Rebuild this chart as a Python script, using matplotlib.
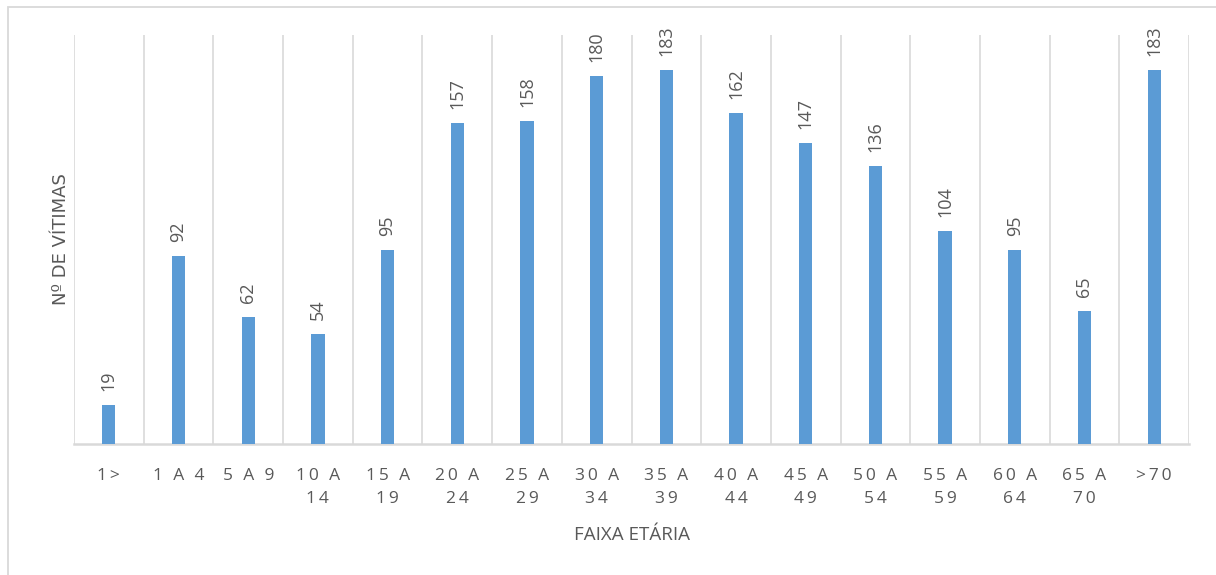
import matplotlib.pyplot as plt
from matplotlib.patches import Rectangle

plt.rcParams['font.family'] = ['Open Sans', 'DejaVu Sans']

faixas = ["1>", "1 A 4", "5 A 9", "10 A\n14", "15 A\n19", "20 A\n24", "25 A\n29",
          "30 A\n34", "35 A\n39", "40 A\n44", "45 A\n49", "50 A\n54", "55 A\n59",
          "60 A\n64", "65 A\n70", ">70"]
vitimas = [19, 92, 62, 54, 95, 157, 158, 180, 183, 162, 147, 136, 104, 95, 65, 183]

cor_barra = "#5B9BD5"
cor_texto = "#595959"
cor_grade = "#D9D9D9"


def espacado(s):
    # imita o espacamento entre letras do Excel
    linhas = []
    for ln in s.split("\n"):
        palavras = ["\u2009".join(p) for p in ln.split(" ")]
        linhas.append("\u2009 \u2009".join(palavras))
    return "\n".join(linhas)


W, H = 1216, 575
fig = plt.figure(figsize=(W / 100, H / 100), dpi=100)
# moldura da area do grafico (so aparecem topo e lado esquerdo)
fig.patches.append(Rectangle((8 / W, -10 / H), (W + 10) / W, (H + 10 - 6.5) / H,
                             transform=fig.transFigure, fill=False,
                             edgecolor=cor_grade, linewidth=1.3))

ax = fig.add_axes([74 / W, (H - 444) / H, 1115 / W, (444 - 35) / H])
x = list(range(len(faixas)))
ax.bar(x, vitimas, width=0.19, color=cor_barra, zorder=3)

for xi, v in zip(x, vitimas):
    ax.annotate(str(v), (xi, v), xytext=(0, 10), textcoords="offset points",
                rotation=90, ha="center", va="bottom", fontsize=13, color=cor_texto)

ax.set_xlim(-0.5, len(faixas) - 0.5)
ax.set_ylim(0, 200)
for g in range(len(faixas) + 1):
    ax.axvline(g - 0.5, color=cor_grade, linewidth=1.2, zorder=1)

ax.set_xticks(x)
ax.set_xticklabels([espacado(f) for f in faixas], fontsize=12.5, color=cor_texto,
                   linespacing=1.6, va="top")
ax.tick_params(axis="x", length=0, pad=17)
ax.set_yticks([])
for s in ["top", "right", "left"]:
    ax.spines[s].set_visible(False)
ax.spines["bottom"].set_color(cor_grade)
ax.spines["bottom"].set_linewidth(1.8)

ax.set_xlabel("FAIXA ETÁRIA", fontsize=13.5, color=cor_texto, labelpad=14)
ax.set_ylabel("Nº DE VÍTIMAS", fontsize=13, color=cor_texto, labelpad=3,
              family=['DejaVu Sans'])

fig.savefig("out.png", dpi=100)
